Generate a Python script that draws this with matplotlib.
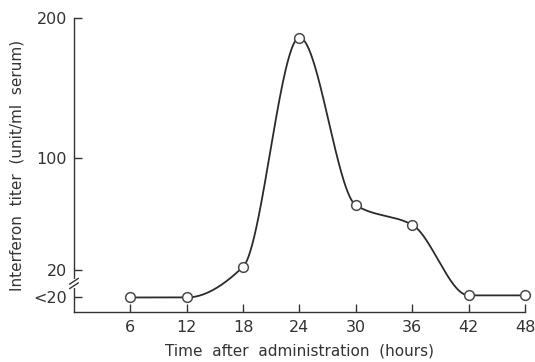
import numpy as np
import matplotlib
matplotlib.use("Agg")
import matplotlib.pyplot as plt

hours = [6, 12, 18, 24, 30, 36, 42, 48]
titer = [0, 0, 22, 186, 66, 52, 1.5, 1.5]   # 0 == "<20"
ytick_vals = [0, 20, 100, 200]
ytick_labels = ["<20", "20", "100", "200"]
xtick_vals = [6, 12, 18, 24, 30, 36, 42, 48]


def pchip(x, y, xs):
    x = np.asarray(x, float); y = np.asarray(y, float)
    h = np.diff(x); d = np.diff(y) / h
    n = len(x); m = np.zeros(n)
    for k in range(1, n - 1):
        if d[k - 1] * d[k] > 0:
            w1 = 2 * h[k] + h[k - 1]; w2 = h[k] + 2 * h[k - 1]
            m[k] = (w1 + w2) / (w1 / d[k - 1] + w2 / d[k])
    m[0] = 0 if d[0] == 0 else d[0]
    m[-1] = 0 if d[-1] == 0 else d[-1]
    out = np.empty_like(xs)
    for i, xv in enumerate(xs):
        k = min(np.searchsorted(x, xv, side="right") - 1, n - 2)
        k = max(k, 0)
        t = (xv - x[k]) / h[k]
        h00 = 2 * t**3 - 3 * t**2 + 1; h10 = t**3 - 2 * t**2 + t
        h01 = -2 * t**3 + 3 * t**2; h11 = t**3 - t**2
        out[i] = h00 * y[k] + h10 * h[k] * m[k] + h01 * y[k + 1] + h11 * h[k] * m[k + 1]
    return out


fig = plt.figure(figsize=(5.35, 3.62), dpi=100)
ax = fig.add_axes([0.1383, 0.1381, 0.8430, 0.8122])

xs = np.linspace(hours[0], hours[-1], 600)
ax.plot(xs, pchip(hours, titer, xs), color="#2b2b2b", lw=1.3, zorder=2)
ax.plot(hours, titer, "o", ms=7, mfc="white", mec="#4a4a4a", mew=1.1,
        zorder=3, clip_on=False)

ax.set_xlim(0, 48)
ax.set_ylim(-10.4, 200)
for s in ["top", "right"]:
    ax.spines[s].set_visible(False)
for s in ["left", "bottom"]:
    ax.spines[s].set_color("#333333")
    ax.spines[s].set_linewidth(1.0)

ax.set_xticks(xtick_vals)
ax.set_xticklabels([str(v) for v in xtick_vals])
ax.set_yticks(ytick_vals)
ax.set_yticklabels(ytick_labels)
ax.tick_params(direction="in", length=6, width=1.0, color="#333333",
               labelsize=11.5, labelcolor="#333333", pad=5)
ax.tick_params(axis="x", pad=6)

# axis break marks
ybreak = 10.0
ax.plot([0, 0], [ybreak - 1.6, ybreak + 1.6], color="white", lw=3,
        transform=ax.transData, clip_on=False, zorder=4)
for dy in (-1.6, 1.6):
    ax.plot([-0.45, 0.45], [ybreak + dy - 2.0, ybreak + dy + 2.0],
            color="#333333", lw=1.0, clip_on=False, zorder=5)

ax.set_xlabel("Time  after  administration  (hours)", fontsize=11,
              color="#333333", labelpad=6)
ax.set_ylabel("Interferon  titer  (unit/ml  serum)", fontsize=11,
              color="#333333", labelpad=6)

fig.savefig("out.png", dpi=100)
